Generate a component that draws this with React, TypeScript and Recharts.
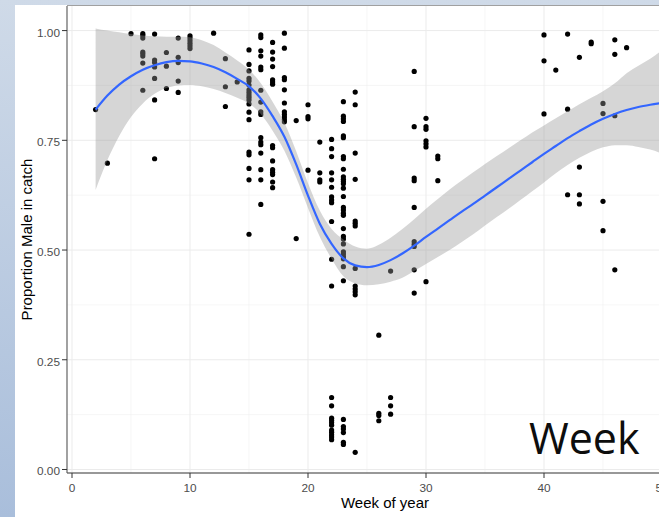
import {
  ComposedChart,
  Scatter,
  Area,
  Line,
  XAxis,
  YAxis,
  CartesianGrid,
} from 'recharts';

// Catch samples: [week of year, proportions male found that week]
const catchByWeek: [number, number[]][] = [
  [2, [0.82]],
  [3, [0.698]],
  [5, [0.993]],
  [6, [0.993, 0.989, 0.983, 0.951, 0.947, 0.942, 0.926, 0.864]],
  [7, [0.992, 0.933, 0.927, 0.917, 0.891, 0.842, 0.708]],
  [8, [0.95, 0.919, 0.868]],
  [9, [0.983, 0.939, 0.927, 0.885, 0.859]],
  [10, [0.988, 0.983, 0.977, 0.971, 0.965, 0.959]],
  [12, [0.994]],
  [13, [0.936, 0.872, 0.827]],
  [14, [0.883]],
  [15, [0.956, 0.923, 0.908, 0.891, 0.885, 0.876, 0.865, 0.859, 0.853, 0.848, 0.842, 0.833, 0.814, 0.797, 0.723, 0.717, 0.686, 0.66, 0.536]],
  [16, [0.99, 0.984, 0.954, 0.942, 0.917, 0.911, 0.864, 0.837, 0.815, 0.809, 0.756, 0.746, 0.74, 0.721, 0.683, 0.66, 0.604]],
  [17, [0.973, 0.951, 0.935, 0.918, 0.888, 0.883, 0.878, 0.738, 0.733, 0.703, 0.683, 0.677, 0.672, 0.655, 0.642]],
  [18, [0.994, 0.96, 0.893, 0.888, 0.865, 0.835, 0.815, 0.809, 0.803, 0.797, 0.792]],
  [19, [0.795, 0.526]],
  [20, [0.831, 0.804, 0.799, 0.682]],
  [21, [0.746, 0.676, 0.66, 0.655]],
  [22, [0.752, 0.731, 0.713, 0.676, 0.66, 0.643, 0.621, 0.614, 0.608, 0.565, 0.479, 0.418, 0.164, 0.145, 0.117, 0.112, 0.107, 0.101, 0.09, 0.085, 0.079, 0.074, 0.068]],
  [23, [0.838, 0.805, 0.799, 0.793, 0.76, 0.756, 0.713, 0.708, 0.684, 0.667, 0.661, 0.656, 0.651, 0.641, 0.622, 0.597, 0.591, 0.584, 0.579, 0.549, 0.531, 0.525, 0.514, 0.496, 0.491, 0.485, 0.48, 0.462, 0.43, 0.114, 0.098, 0.092, 0.084, 0.062, 0.057]],
  [24, [0.86, 0.831, 0.721, 0.661, 0.566, 0.561, 0.555, 0.458, 0.418, 0.411, 0.405, 0.398, 0.039]],
  [26, [0.306, 0.128, 0.123, 0.111]],
  [27, [0.452, 0.164, 0.145, 0.126]],
  [29, [0.907, 0.781, 0.664, 0.658, 0.597, 0.519, 0.513, 0.508, 0.455, 0.402]],
  [30, [0.8, 0.781, 0.775, 0.749, 0.742, 0.735, 0.428]],
  [31, [0.714, 0.708, 0.658]],
  [40, [0.99, 0.931, 0.81]],
  [41, [0.91]],
  [42, [0.992, 0.821, 0.626]],
  [43, [0.939, 0.689, 0.626, 0.605]],
  [44, [0.974, 0.97]],
  [45, [0.834, 0.811, 0.611, 0.544]],
  [46, [0.979, 0.946, 0.806, 0.455]],
  [47, [0.961]],
];

// loess fit and its 95% band
const fitWeeks = [
  2, 3, 4, 5, 6, 7, 8, 9, 10, 11, 12, 13, 14, 15, 16, 17, 18, 19, 20, 21, 22, 23, 24, 25, 26,
  27, 28, 29, 30, 31, 32, 33, 34, 35, 36, 37, 38, 39, 40, 41, 42, 43, 44, 45, 46, 47, 48, 49, 50,
];
const fitMean = [
  0.82, 0.852, 0.877, 0.896, 0.911, 0.921, 0.928, 0.931, 0.93, 0.925, 0.917, 0.905, 0.89, 0.873,
  0.845, 0.805, 0.758, 0.695, 0.624, 0.56, 0.514, 0.481, 0.465, 0.461, 0.466, 0.477, 0.492, 0.51,
  0.53, 0.549, 0.568, 0.587, 0.605, 0.624, 0.643, 0.662, 0.681, 0.7, 0.719, 0.737, 0.755, 0.771,
  0.786, 0.799, 0.81, 0.819, 0.826, 0.831, 0.835,
];
const fitUpper = [
  1.005, 1.0, 0.996, 0.992, 0.989, 0.987, 0.986, 0.986, 0.985, 0.978, 0.967, 0.95, 0.932, 0.911,
  0.88, 0.838, 0.79, 0.725, 0.652, 0.59, 0.548, 0.524, 0.508, 0.503, 0.512, 0.528, 0.548, 0.57,
  0.594, 0.616, 0.638, 0.658, 0.677, 0.696, 0.714, 0.732, 0.75, 0.768, 0.784, 0.8, 0.816, 0.832,
  0.847, 0.862, 0.88, 0.903, 0.92, 0.936, 0.955,
];
const fitLower = [
  0.637, 0.705, 0.76, 0.803, 0.834, 0.856, 0.869, 0.875, 0.876, 0.873, 0.867, 0.858, 0.847, 0.834,
  0.81, 0.772, 0.726, 0.665, 0.596, 0.53, 0.48, 0.44, 0.424, 0.42, 0.422, 0.428, 0.437, 0.452,
  0.468, 0.484, 0.5, 0.518, 0.536, 0.556, 0.575, 0.594, 0.614, 0.634, 0.654, 0.675, 0.694, 0.71,
  0.724, 0.734, 0.739, 0.739, 0.735, 0.729, 0.72,
];

const xTicks = [0, 10, 20, 30, 40, 50];
const xMinor = [5, 15, 25, 35, 45];
const yTicks = [0, 0.25, 0.5, 0.75, 1];
const yMinor = [0.125, 0.375, 0.625, 0.875];

const X_DOMAIN: [number, number] = [-0.424, 53.5];
const Y_DOMAIN: [number, number] = [-0.008, 1.056];

const CHART_W = 714;
const CHART_H = 517;
// plot box: left 67, top 6, bottom 473
const PLOT_MARGIN = { top: 6, right: 10.7, bottom: 44, left: 67 };

const points = catchByWeek.flatMap(([week, shares]) => shares.map((share) => ({ week, share })));
const fitRows = fitWeeks.map((week, i) => ({
  week,
  mean: fitMean[i],
  band: [fitLower[i], fitUpper[i]],
}));

const AXIS_FONT = '"Liberation Sans", Arial, sans-serif';

function XTick(props: any) {
  const { x, y, payload } = props;
  return (
    <text x={x} y={y} dy={12} textAnchor="middle" fontSize={11.8} fill="#4d4d4d" fontFamily={AXIS_FONT}>
      {payload.value}
    </text>
  );
}

function YTick(props: any) {
  const { x, y, payload } = props;
  return (
    <text x={x} y={y} dy={6} textAnchor="end" fontSize={11.8} fill="#4d4d4d" fontFamily={AXIS_FONT}>
      {Number(payload.value).toFixed(2)}
    </text>
  );
}

// map data values to pixels inside the plot area for the grid generators
const xGrid = (values: number[]) => (p: any) => {
  const { offset } = p;
  return values.map((v) => offset.left + ((v - X_DOMAIN[0]) / (X_DOMAIN[1] - X_DOMAIN[0])) * offset.width);
};
const yGrid = (values: number[]) => (p: any) => {
  const { offset } = p;
  return values.map((v) => offset.top + ((Y_DOMAIN[1] - v) / (Y_DOMAIN[1] - Y_DOMAIN[0])) * offset.height);
};

const layer: React.CSSProperties = { position: 'absolute', left: 0, top: 0 };

export default function App() {
  return (
    <div
      style={{
        position: 'absolute',
        left: 0,
        top: 0,
        width: 659,
        height: 517,
        overflow: 'hidden',
        background: 'linear-gradient(to bottom, #cfdae8, #a9bedb)',
      }}
    >
      <div style={{ position: 'absolute', left: 15, top: 5, right: 0, bottom: 0, background: '#fff' }} />
      <div style={{ position: 'absolute', left: 67, top: 5, right: 0, height: 1, background: '#a0a0a0' }} />

      {/* base layer: grid, axes, raw points */}
      <div style={layer}>
        <ComposedChart
          width={CHART_W}
          height={CHART_H}
          data={fitRows}
          margin={{ top: PLOT_MARGIN.top, right: PLOT_MARGIN.right, bottom: 0, left: 15 }}
        >
          <CartesianGrid
            stroke="#f0f0f0"
            strokeWidth={0.6}
            verticalCoordinatesGenerator={xGrid(xMinor)}
            horizontalCoordinatesGenerator={yGrid(yMinor)}
          />
          <CartesianGrid
            stroke="#ebebeb"
            strokeWidth={1}
            verticalCoordinatesGenerator={xGrid(xTicks)}
            horizontalCoordinatesGenerator={yGrid(yTicks)}
          />
          <XAxis
            type="number"
            dataKey="week"
            domain={X_DOMAIN}
            ticks={xTicks}
            allowDataOverflow
            height={PLOT_MARGIN.bottom}
            tickSize={5}
            tickMargin={2}
            axisLine={{ stroke: '#333', strokeWidth: 1.1 }}
            tickLine={{ stroke: '#333' }}
            tick={<XTick />}
          />
          <YAxis
            type="number"
            domain={Y_DOMAIN}
            ticks={yTicks}
            allowDataOverflow
            width={52}
            tickSize={5}
            tickMargin={2}
            axisLine={{ stroke: '#555', strokeWidth: 1.1 }}
            tickLine={{ stroke: '#333' }}
            tick={<YTick />}
          />
          <Scatter
            data={points}
            dataKey="share"
            isAnimationActive={false}
            shape={(p: any) => <circle cx={p.cx} cy={p.cy} r={2.6} fill="#000" />}
          />
          <text x={385} y={508} textAnchor="middle" fontSize={15} fill="#000" fontFamily={AXIS_FONT}>
            Week of year
          </text>
          <text
            transform="translate(32,239.5) rotate(-90)"
            textAnchor="middle"
            fontSize={15}
            fill="#000"
            fontFamily={AXIS_FONT}
          >
            Proportion Male in catch
          </text>
        </ComposedChart>
      </div>

      {/* smooth layer drawn over the points, same scales */}
      <div style={layer}>
        <ComposedChart width={CHART_W} height={CHART_H} data={fitRows} margin={PLOT_MARGIN}>
          <XAxis type="number" dataKey="week" domain={X_DOMAIN} allowDataOverflow hide />
          <YAxis type="number" domain={Y_DOMAIN} allowDataOverflow hide />
          <Area
            type="monotone"
            dataKey="band"
            fill="#999999"
            fillOpacity={0.4}
            stroke="none"
            isAnimationActive={false}
          />
          <Line
            type="monotone"
            dataKey="mean"
            stroke="#3366ff"
            strokeWidth={2.2}
            dot={false}
            isAnimationActive={false}
          />
          <text x={529} y={454} fontSize={43} fill="#0d0d0d" fontFamily='"Open Sans", sans-serif'>
            Week
          </text>
        </ComposedChart>
      </div>
    </div>
  );
}
